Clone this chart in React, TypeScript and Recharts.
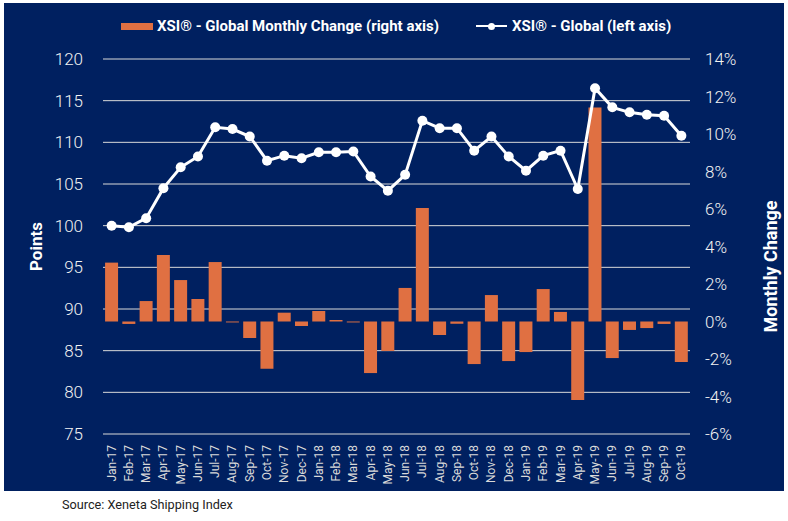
import {
  ComposedChart,
  Bar,
  Line,
  XAxis,
  YAxis,
  CartesianGrid,
} from 'recharts';

const months = [
  'Jan-17', 'Feb-17', 'Mar-17', 'Apr-17', 'May-17', 'Jun-17', 'Jul-17', 'Aug-17', 'Sep-17', 'Oct-17', 'Nov-17', 'Dec-17',
  'Jan-18', 'Feb-18', 'Mar-18', 'Apr-18', 'May-18', 'Jun-18', 'Jul-18', 'Aug-18', 'Sep-18', 'Oct-18', 'Nov-18', 'Dec-18',
  'Jan-19', 'Feb-19', 'Mar-19', 'Apr-19', 'May-19', 'Jun-19', 'Jul-19', 'Aug-19', 'Sep-19', 'Oct-19',
];

// XSI Global index (left axis, points)
const xsiGlobal = [
  100.0, 99.8, 100.9, 104.5, 107.0, 108.3, 111.8, 111.6, 110.7, 107.8, 108.4, 108.1,
  108.8, 108.8, 108.9, 105.9, 104.2, 106.1, 112.6, 111.7, 111.7, 109.0, 110.7, 108.3,
  106.6, 108.4, 109.0, 104.4, 116.5, 114.2, 113.6, 113.3, 113.2, 110.8,
];

// monthly change (right axis, fraction)
const monthlyChange = [
  0.0314, -0.0013, 0.0109, 0.0355, 0.0221, 0.012, 0.0317, -0.0005, -0.0088, -0.0252, 0.0047, -0.0024,
  0.0056, 0.0008, -0.0005, -0.0275, -0.0157, 0.0179, 0.0605, -0.0072, -0.0012, -0.0227, 0.0141, -0.0211,
  -0.0163, 0.0173, 0.0051, -0.0419, 0.1142, -0.0195, -0.0045, -0.0035, -0.0013, -0.0216,
];

const leftTicks = [75, 80, 85, 90, 95, 100, 105, 110, 115, 120];
const rightTicks = [-0.06, -0.04, -0.02, 0, 0.02, 0.04, 0.06, 0.08, 0.1, 0.12, 0.14];

const data = months.map((m, i) => ({ month: m, index: xsiGlobal[i], change: monthlyChange[i] }));

const NAVY = '#002060';
const ORANGE = '#E07042';
const FONT = 'Roboto, "Noto Sans", sans-serif';

function MonthTick({ x, y, payload }: any) {
  return (
    <text
      x={0}
      y={0}
      transform={`translate(${x},${y + 9}) rotate(-90)`}
      textAnchor="end"
      dominantBaseline="central"
      fill="#D9D9D9"
      fontSize={12}
      fontFamily={FONT}
    >
      {payload.value}
    </text>
  );
}

function AxisTitle({ viewBox, value, dx, dy = 0, size = 17 }: any) {
  const cx = viewBox.x + dx;
  const cy = viewBox.y + viewBox.height / 2 + dy;
  return (
    <text
      x={cx}
      y={cy}
      transform={`rotate(-90, ${cx}, ${cy})`}
      textAnchor="middle"
      dominantBaseline="central"
      fill="#FFFFFF"
      fontSize={size}
      fontWeight={700}
      fontFamily={FONT}
    >
      {value}
    </text>
  );
}

export default function App() {
  return (
    <div style={{ position: 'absolute', left: 0, top: 0, width: 788, height: 521, background: '#FFFFFF' }}>
      <div style={{ position: 'absolute', left: 4, top: 3, width: 780, height: 488, background: NAVY }}>
        <ComposedChart
          width={780}
          height={488}
          data={data}
          margin={{ top: 56, right: 0, bottom: 0, left: 0 }}
          barCategoryGap="12%"
        >
          <CartesianGrid yAxisId="left" vertical={false} stroke="#D9D9D9" strokeWidth={1} />
          <XAxis
            dataKey="month"
            interval={0}
            height={57}
            tickLine={false}
            axisLine={false}
            tickSize={0}
            tick={<MonthTick />}
          />
          <YAxis
            yAxisId="left"
            orientation="left"
            width={99}
            domain={[75, 120]}
            ticks={leftTicks}
            tickLine={false}
            axisLine={false}
            tickSize={0}
            tickMargin={20}
            tick={{ fill: '#F2F2F2', fontSize: 17, fontWeight: 300, fontFamily: FONT }}
            label={<AxisTitle value="Points" dx={32} />}
          />
          <YAxis
            yAxisId="right"
            orientation="right"
            width={94}
            domain={[-0.06, 0.14]}
            ticks={rightTicks}
            tickLine={false}
            axisLine={false}
            tickSize={0}
            tickMargin={15}
            tickFormatter={(v: number) => `${Math.round(v * 100)}%`}
            tick={{ fill: '#F2F2F2', fontSize: 17, fontWeight: 300, fontFamily: FONT, textAnchor: 'start' }}
            label={<AxisTitle value="Monthly Change" dx={80} dy={20} size={18} />}
          />
          <Bar yAxisId="right" dataKey="change" fill={ORANGE} isAnimationActive={false} />
          <Line
            yAxisId="left"
            dataKey="index"
            type="linear"
            stroke="#FFFFFF"
            strokeWidth={3}
            dot={{ r: 5, fill: '#FFFFFF', stroke: 'none' }}
            activeDot={false}
            isAnimationActive={false}
          />
        </ComposedChart>
        <div
          style={{
            position: 'absolute',
            left: 117,
            top: 14,
            display: 'flex',
            alignItems: 'center',
            fontFamily: FONT,
            fontWeight: 700,
            fontSize: 15,
            color: '#FFFFFF',
            whiteSpace: 'nowrap',
          }}
        >
          <span style={{ display: 'inline-block', width: 32, height: 7, background: ORANGE, marginRight: 4 }} />
          <span>XSI® - Global Monthly Change (right axis)</span>
          <span style={{ position: 'relative', display: 'inline-block', width: 31, height: 10, marginLeft: 37, marginRight: 5 }}>
            <span style={{ position: 'absolute', left: 0, top: 4, width: 31, height: 2, background: '#FFFFFF' }} />
            <span style={{ position: 'absolute', left: 12, top: 2, width: 7, height: 7, borderRadius: 4, background: '#FFFFFF' }} />
          </span>
          <span>XSI® - Global (left axis)</span>
        </div>
      </div>
      <div
        style={{
          position: 'absolute',
          left: 62,
          top: 497,
          lineHeight: '16px',
          fontFamily: FONT,
          fontSize: 12.7,
          color: '#222222',
          whiteSpace: 'nowrap',
        }}
      >
        Source: Xeneta Shipping Index
      </div>
    </div>
  );
}
